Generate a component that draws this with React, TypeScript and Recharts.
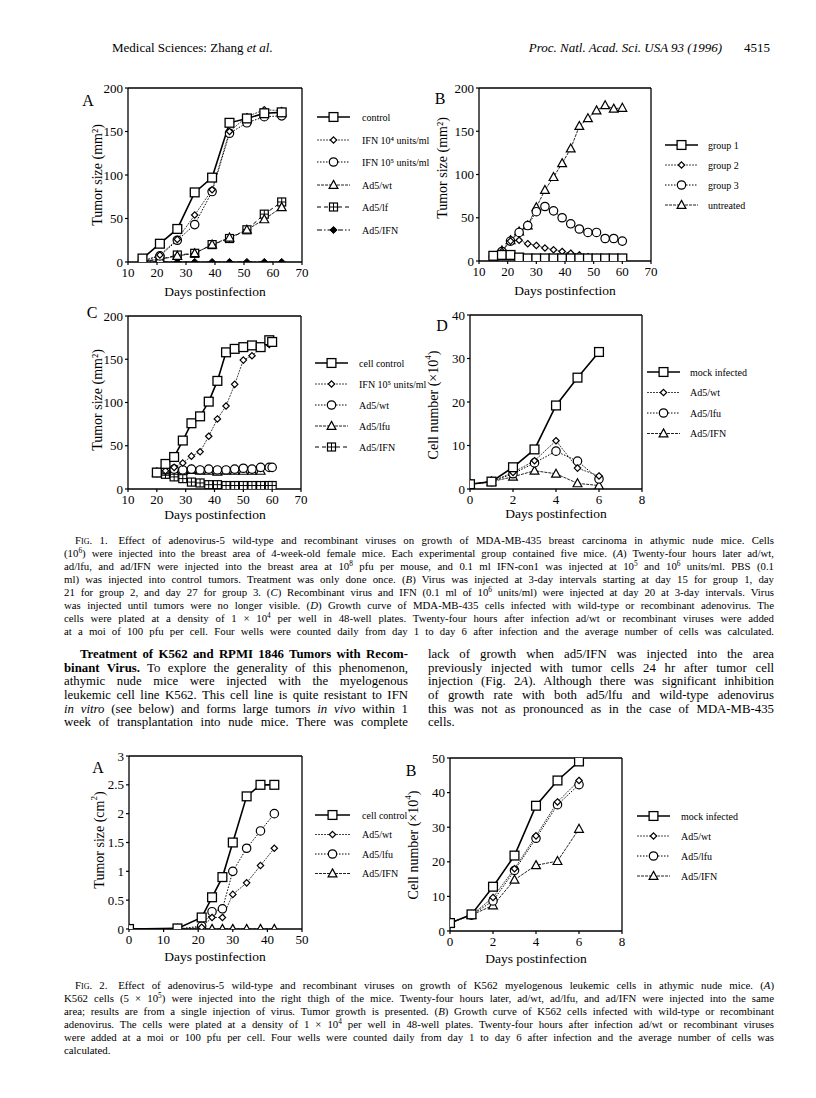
import React from "react"
import { LineChart, Line, XAxis, YAxis, ReferenceLine } from "recharts"

const serif = '"Liberation Serif", "Times New Roman", serif'

// Fig. 1A – MDA-MB-435 tumors, single treatment
const f1aDays = [15, 21, 27, 33, 39, 45, 51, 57, 63]
const f1aControl = [4, 21, 38, 80, 97, 160, 165, 171, 172]
const f1aIfn4 = [1, 8, 26, 54, 83, 150, 167, 175, 174]
const f1aIfn5 = [1, 7, 25, 43, 81, 148, 160, 167, 168]
const f1aWt = [1, 3, 7, 10, 20, 28, 37, 49, 63]
const f1aLf = [1, 3, 8, 10, 20, 27, 37, 55, 69]
const f1aAdIfn = [0, 0, 0, 0, 0, 0, 0, 0, 0]

// Fig. 1B – repeated injections by group
const f1bDays = [15, 18, 21, 24, 27, 30, 33, 36, 39, 42, 45, 48, 51, 54, 57, 60]
const f1bGroup1 = [6, 7, 7, 4, 3, 3, 3, 3, 3, 3, 3, 3, 3, 3, 3, 3]
const f1bGroup2 = [5, 11, 23, 24, 20, 18, 15, 13, 11, 9, 7, 5, 4, 3, 2, 2]
const f1bGroup3 = [5, 11, 23, 33, 41, 57, 63, 58, 50, 43, 37, 33, 33, 26, 26, 23]
const f1bUntreated = [4, 12, 24, 34, 41, 62, 82, 97, 113, 130, 156, 165, 174, 180, 176, 177]

// Fig. 1C – treatment from day 20
const f1cDays = [20, 23, 26, 29, 32, 35, 38, 41, 44, 47, 50, 53, 56, 59, 60]
const f1cControl = [19, 29, 37, 56, 76, 84, 101, 125, 158, 162, 164, 166, 164, 172, 170]
const f1cIfn5 = [19, 21, 25, 30, 38, 43, 61, 81, 96, 121, 149, 154, 163, 167, null]
const f1cWt = [19, 22, 23, 22, 23, 22, 23, 22, 22, 23, 24, 23, 25, 25, 25]
const f1cLfu = [19, 20, 21, 21, 22, 21, 21, 20, 21, 21, 21, 21, 21, null, null]
const f1cAdIfn = [19, 17, 14, 12, 8, 7, 5, 5, 4, 4, 4, 4, 4, 4, 4]

// Fig. 1D – MDA-MB-435 cell growth in vitro
const f1dDays = [0, 1, 2, 3, 4, 5, 6]
const f1dMock = [1.1, 1.7, 5, 9.1, 19.2, 25.6, 31.5]
const f1dWt = [1.1, 1.7, 3.8, 6.5, 11.1, 4.8, 3]
const f1dLfu = [1.1, 1.7, 3.5, 6, 8.7, 6.4, 2.3]
const f1dIfn = [1.1, 1.7, 2.8, 4.2, 3.5, 1.3, 0.8]

// Fig. 2A – K562 tumors
const f2aDays = [0, 14, 21, 24, 27, 30, 34, 38, 42]
const f2aControl = [0, 0.01, 0.2, 0.55, 0.9, 1.5, 2.3, 2.5, 2.5]
const f2aWt = [0, 0, 0.03, 0.2, 0.2, 0.6, 0.8, 1.1, 1.4]
const f2aLfu = [0, 0, 0.05, 0.3, 0.35, 1.0, 1.4, 1.7, 2.0]
const f2aIfn = [0, 0, 0, 0, 0, 0, 0, 0, 0]

// Fig. 2B – K562 cell growth in vitro
const f2bDays = [0, 1, 2, 3, 4, 5, 6]
const f2bMock = [2.3, 4.8, 12.8, 21.8, 36.2, 43.5, 49]
const f2bWt = [2.3, 4.6, 9.7, 18, 27.5, 37.3, 43.5]
const f2bLfu = [2.3, 4.6, 8.7, 17.5, 26.8, 36.5, 42.3]
const f2bIfn = [2.3, 4.6, 7.4, 14.8, 19, 20.2, 29.5]

const dayTicks70 = [10, 20, 30, 40, 50, 60, 70]
const sizeTicks200 = [0, 50, 100, 150, 200]
const dayTicks8 = [0, 2, 4, 6, 8]

type Marker = "square" | "diamond" | "circle" | "triangle" | "boxplus" | "filledDiamond"
type StrokeKind = "solid" | "gray" | "dotted" | "thin" | "dashed" | "dashdot"

interface Series {
  key: string
  name: string
  values: (number | null)[]
  marker: Marker
  stroke: StrokeKind
}

const STROKES: Record<StrokeKind, { color: string; width: number; dash?: string }> = {
  solid: { color: "#000", width: 1.6 },
  gray: { color: "#444", width: 1, dash: "2 1" },
  dotted: { color: "#000", width: 1, dash: "1.5 1.5" },
  thin: { color: "#222", width: 1, dash: "3 1" },
  dashed: { color: "#000", width: 1, dash: "4 3" },
  dashdot: { color: "#000", width: 1, dash: "5 2 1.5 2" },
}

function markerShape(m: Marker, cx: number, cy: number, key?: React.Key) {
  const sw = 1.2
  switch (m) {
    case "square":
      return <rect key={key} x={cx - 4.4} y={cy - 4.4} width={8.8} height={8.8} fill="#fff" stroke="#000" strokeWidth={1.3} />
    case "circle":
      return <circle key={key} cx={cx} cy={cy} r={4.2} fill="#fff" stroke="#000" strokeWidth={sw} />
    case "diamond":
      return (
        <polygon key={key} points={`${cx},${cy - 3.2} ${cx + 3.2},${cy} ${cx},${cy + 3.2} ${cx - 3.2},${cy}`}
          fill="#fff" stroke="#000" strokeWidth={sw} />
      )
    case "filledDiamond":
      return (
        <polygon key={key} points={`${cx},${cy - 3.6} ${cx + 3.6},${cy} ${cx},${cy + 3.6} ${cx - 3.6},${cy}`}
          fill="#000" stroke="#000" strokeWidth={1} />
      )
    case "triangle":
      return (
        <polygon key={key} points={`${cx},${cy - 4.6} ${cx + 4.4},${cy + 3.4} ${cx - 4.4},${cy + 3.4}`}
          fill="#fff" stroke="#000" strokeWidth={sw} />
      )
    case "boxplus":
      return (
        <g key={key}>
          <rect x={cx - 4} y={cy - 4} width={8} height={8} fill="#fff" stroke="#000" strokeWidth={sw} />
          <line x1={cx - 4} x2={cx + 4} y1={cy} y2={cy} stroke="#000" strokeWidth={1} />
          <line x1={cx} x2={cx} y1={cy - 4} y2={cy + 4} stroke="#000" strokeWidth={1} />
        </g>
      )
  }
}

interface PanelProps {
  box: { left: number; top: number; width: number; height: number }
  x: number[]
  series: Series[]
  xDomain: [number, number]
  xTicks: number[]
  yDomain: [number, number]
  yTicks: number[]
}

function Panel({ box, x, series, xDomain, xTicks, yDomain, yTicks }: PanelProps) {
  const padL = 50
  const padT = 14
  const padR = 14
  const padB = 30
  const data = x.map((d, i) => {
    const row: Record<string, number | null> = { x: d }
    series.forEach((s) => (row[s.key] = s.values[i]))
    return row
  })
  const tick = { fontSize: 13, fill: "#000", fontFamily: serif }
  return (
    <div style={{ position: "absolute", left: box.left - padL, top: box.top - padT }}>
      <LineChart
        width={padL + box.width + padR}
        height={padT + box.height + padB}
        data={data}
        margin={{ top: padT, right: padR, left: 0, bottom: 0 }}
      >
        <XAxis
          dataKey="x"
          type="number"
          domain={xDomain}
          ticks={xTicks}
          interval={0}
          allowDataOverflow
          height={padB}
          tickSize={3}
          tickMargin={3}
          tick={tick}
          axisLine={{ stroke: "#000", strokeWidth: 1.3 }}
          tickLine={{ stroke: "#000", strokeWidth: 1.2 }}
        />
        <YAxis
          type="number"
          domain={yDomain}
          ticks={yTicks}
          interval={0}
          allowDataOverflow
          width={padL}
          tickSize={3}
          tickMargin={2}
          tick={tick}
          axisLine={{ stroke: "#000", strokeWidth: 1.3 }}
          tickLine={{ stroke: "#000", strokeWidth: 1.2 }}
        />
        <ReferenceLine y={yDomain[1]} stroke="#000" strokeWidth={1.3} />
        <ReferenceLine x={xDomain[1]} stroke="#000" strokeWidth={1.3} />
        {[...series].reverse().map((s) => {
          const st = STROKES[s.stroke]
          return (
            <Line
              key={s.key}
              dataKey={s.key}
              type="linear"
              stroke={st.color}
              strokeWidth={st.width}
              strokeDasharray={st.dash}
              isAnimationActive={false}
              activeDot={false}
              dot={(p: any) =>
                p.cx == null || p.cy == null || p.value == null ? (
                  <g key={`${s.key}-${p.index}`} />
                ) : (
                  markerShape(s.marker, p.cx, p.cy, `${s.key}-${p.index}`)
                )
              }
            />
          )
        })}
      </LineChart>
    </div>
  )
}

function LegendBlock({ items, x1, x2, tx, ys }: { items: Series[]; x1: number; x2: number; tx: number; ys: number[] }) {
  return (
    <g>
      {items.map((s, i) => {
        const st = STROKES[s.stroke]
        const y = ys[i]
        return (
          <g key={s.key}>
            <line x1={x1} x2={x2} y1={y} y2={y} stroke={st.color} strokeWidth={st.width} strokeDasharray={st.dash} />
            {markerShape(s.marker, (x1 + x2) / 2, y)}
            <text x={tx} y={y} dominantBaseline="central" fontSize={10} fontFamily={serif} fill="#000">
              {s.name}
            </text>
          </g>
        )
      })}
    </g>
  )
}

function YTitle({ x, y, children }: { x: number; y: number; children: React.ReactNode }) {
  return (
    <text x={x} y={y} transform={`rotate(-90 ${x} ${y})`} textAnchor="middle" dominantBaseline="central"
      fontSize={14} fontFamily={serif} fill="#000">
      {children}
    </text>
  )
}

function XTitle({ x, y }: { x: number; y: number }) {
  return (
    <text x={x} y={y} textAnchor="middle" dominantBaseline="central" fontSize={13.5} fontFamily={serif} fill="#000">
      Days postinfection
    </text>
  )
}

function Letter({ x, y, c }: { x: number; y: number; c: string }) {
  return (
    <text x={x} y={y} textAnchor="middle" dominantBaseline="central" fontSize={16} fontFamily={serif} fill="#000">
      {c}
    </text>
  )
}

const f1aSeries: Series[] = [
  { key: "control", name: "control", values: f1aControl, marker: "square", stroke: "solid" },
  { key: "ifn4", name: "IFN 10⁴ units/ml", values: f1aIfn4, marker: "diamond", stroke: "gray" },
  { key: "ifn5", name: "IFN 10⁵ units/ml", values: f1aIfn5, marker: "circle", stroke: "dotted" },
  { key: "wt", name: "Ad5/wt", values: f1aWt, marker: "triangle", stroke: "thin" },
  { key: "lf", name: "Ad5/lf", values: f1aLf, marker: "boxplus", stroke: "dashed" },
  { key: "adifn", name: "Ad5/IFN", values: f1aAdIfn, marker: "filledDiamond", stroke: "dashdot" },
]
const f1bSeries: Series[] = [
  { key: "g1", name: "group 1", values: f1bGroup1, marker: "square", stroke: "solid" },
  { key: "g2", name: "group 2", values: f1bGroup2, marker: "diamond", stroke: "gray" },
  { key: "g3", name: "group 3", values: f1bGroup3, marker: "circle", stroke: "dotted" },
  { key: "un", name: "untreated", values: f1bUntreated, marker: "triangle", stroke: "thin" },
]
const f1cSeries: Series[] = [
  { key: "cc", name: "cell control", values: f1cControl, marker: "square", stroke: "solid" },
  { key: "ifn5", name: "IFN 10⁵ units/ml", values: f1cIfn5, marker: "diamond", stroke: "gray" },
  { key: "wt", name: "Ad5/wt", values: f1cWt, marker: "circle", stroke: "dotted" },
  { key: "lfu", name: "Ad5/lfu", values: f1cLfu, marker: "triangle", stroke: "thin" },
  { key: "adifn", name: "Ad5/IFN", values: f1cAdIfn, marker: "boxplus", stroke: "dashed" },
]
const f1dSeries: Series[] = [
  { key: "mock", name: "mock infected", values: f1dMock, marker: "square", stroke: "solid" },
  { key: "wt", name: "Ad5/wt", values: f1dWt, marker: "diamond", stroke: "gray" },
  { key: "lfu", name: "Ad5/lfu", values: f1dLfu, marker: "circle", stroke: "dotted" },
  { key: "ifn", name: "Ad5/IFN", values: f1dIfn, marker: "triangle", stroke: "thin" },
]
const f2aSeries: Series[] = [
  { key: "cc", name: "cell control", values: f2aControl, marker: "square", stroke: "solid" },
  { key: "wt", name: "Ad5/wt", values: f2aWt, marker: "diamond", stroke: "gray" },
  { key: "lfu", name: "Ad5/lfu", values: f2aLfu, marker: "circle", stroke: "dotted" },
  { key: "ifn", name: "Ad5/IFN", values: f2aIfn, marker: "triangle", stroke: "thin" },
]
const f2bSeries: Series[] = [
  { key: "mock", name: "mock infected", values: f2bMock, marker: "square", stroke: "solid" },
  { key: "wt", name: "Ad5/wt", values: f2bWt, marker: "diamond", stroke: "gray" },
  { key: "lfu", name: "Ad5/lfu", values: f2bLfu, marker: "circle", stroke: "dotted" },
  { key: "ifn", name: "Ad5/IFN", values: f2bIfn, marker: "triangle", stroke: "thin" },
]

const Sup = ({ children }: { children: React.ReactNode }) => (
  <span style={{ fontSize: "0.68em", verticalAlign: "0.5em", lineHeight: 0 }}>{children}</span>
)
const SC = ({ children }: { children: React.ReactNode }) => (
  <span style={{ fontVariant: "small-caps" }}>{children}</span>
)

// one justified line of page text; the box height equals the line pitch so lines do not overlap
function TextLine({ x, y, w, size, lh, children, last = false, indent = 0 }: {
  x: number; y: number; w: number; size: number; lh: number; children: React.ReactNode; last?: boolean; indent?: number
}) {
  return (
    <div
      style={{
        position: "absolute",
        left: x + indent,
        top: y - lh / 2,
        width: w - indent,
        height: lh,
        fontSize: size,
        lineHeight: `${lh}px`,
        textAlign: last ? "left" : "justify",
        textAlignLast: last ? "left" : "justify",
      }}
    >
      {children}
    </div>
  )
}

const fig1Caption: React.ReactNode[] = [
  <><SC>Fig. 1.</SC>{"\u2003"}Effect of adenovirus-5 wild-type and recombinant viruses on growth of MDA-MB-435 breast carcinoma in athymic nude mice. Cells</>,
  <>(10<Sup>6</Sup>) were injected into the breast area of 4-week-old female mice. Each experimental group contained five mice. (<i>A</i>) Twenty-four hours later ad/wt,</>,
  <>ad/lfu, and ad/IFN were injected into the breast area at 10<Sup>8</Sup> pfu per mouse, and 0.1 ml IFN-con1 was injected at 10<Sup>5</Sup> and 10<Sup>6</Sup> units/ml. PBS (0.1</>,
  <>ml) was injected into control tumors. Treatment was only done once. (<i>B</i>) Virus was injected at 3-day intervals starting at day 15 for group 1, day</>,
  <>21 for group 2, and day 27 for group 3. (<i>C</i>) Recombinant virus and IFN (0.1 ml of 10<Sup>6</Sup> units/ml) were injected at day 20 at 3-day intervals. Virus</>,
  <>was injected until tumors were no longer visible. (<i>D</i>) Growth curve of MDA-MB-435 cells infected with wild-type or recombinant adenovirus. The</>,
  <>cells were plated at a density of 1 × 10<Sup>4</Sup> per well in 48-well plates. Twenty-four hours after infection ad/wt or recombinant viruses were added</>,
  <>at a moi of 100 pfu per cell. Four wells were counted daily from day 1 to day 6 after infection and the average number of cells was calculated.</>,
]

const leftColumn: React.ReactNode[] = [
  <b>Treatment of K562 and RPMI 1846 Tumors with Recom-</b>,
  <><b>binant Virus.</b> To explore the generality of this phenomenon,</>,
  <>athymic nude mice were injected with the myelogenous</>,
  <>leukemic cell line K562. This cell line is quite resistant to IFN</>,
  <><i>in vitro</i> (see below) and forms large tumors <i>in vivo</i> within 1</>,
  <>week of transplantation into nude mice. There was complete</>,
]

const rightColumn: React.ReactNode[] = [
  <>lack of growth when ad5/IFN was injected into the area</>,
  <>previously injected with tumor cells 24 hr after tumor cell</>,
  <>injection (Fig. 2<i>A</i>). Although there was significant inhibition</>,
  <>of growth rate with both ad5/lfu and wild-type adenovirus</>,
  <>this was not as pronounced as in the case of MDA-MB-435</>,
  <>cells.</>,
]

const fig2Caption: React.ReactNode[] = [
  <><SC>Fig. 2.</SC>{"\u2003"}Effect of adenovirus-5 wild-type and recombinant viruses on growth of K562 myelogenous leukemic cells in athymic nude mice. (<i>A</i>)</>,
  <>K562 cells (5 × 10<Sup>5</Sup>) were injected into the right thigh of the mice. Twenty-four hours later, ad/wt, ad/lfu, and ad/IFN were injected into the same</>,
  <>area; results are from a single injection of virus. Tumor growth is presented. (<i>B</i>) Growth curve of K562 cells infected with wild-type or recombinant</>,
  <>adenovirus. The cells were plated at a density of 1 × 10<Sup>4</Sup> per well in 48-well plates. Twenty-four hours after infection ad/wt or recombinant viruses</>,
  <>were added at a moi or 100 pfu per cell. Four wells were counted daily from day 1 to day 6 after infection and the average number of cells was</>,
  <>calculated.</>,
]

export default function App() {
  const capX = 64
  const capW = 710
  const capSize = 10.8
  const capLh = 13
  const bodySize = 12.8
  const bodyLh = 13.6
  return (
    <div
      style={{
        position: "absolute",
        left: 0,
        top: 0,
        width: 816,
        height: 1098,
        background: "#fff",
        overflow: "hidden",
        fontFamily: serif,
        color: "#000",
      }}
    >
      {/* running head */}
      <div style={{ position: "absolute", left: 112, top: 40, fontSize: 13 }}>
        Medical Sciences: Zhang <i>et al.</i>
      </div>
      <div style={{ position: "absolute", right: 46, top: 40, fontSize: 13, whiteSpace: "nowrap" }}>
        <i>Proc. Natl. Acad. Sci. USA 93 (1996)</i>
        <span style={{ marginLeft: 22 }}>4515</span>
      </div>

      <Panel box={{ left: 128, top: 88, width: 174, height: 174 }} x={f1aDays} series={f1aSeries}
        xDomain={[10, 70]} xTicks={dayTicks70} yDomain={[0, 200]} yTicks={sizeTicks200} />
      <Panel box={{ left: 479, top: 88, width: 172, height: 173 }} x={f1bDays} series={f1bSeries}
        xDomain={[10, 70]} xTicks={dayTicks70} yDomain={[0, 200]} yTicks={sizeTicks200} />
      <Panel box={{ left: 128, top: 316, width: 173, height: 173 }} x={f1cDays} series={f1cSeries}
        xDomain={[10, 70]} xTicks={dayTicks70} yDomain={[0, 200]} yTicks={sizeTicks200} />
      <Panel box={{ left: 470, top: 315, width: 172, height: 174 }} x={f1dDays} series={f1dSeries}
        xDomain={[0, 8]} xTicks={dayTicks8} yDomain={[0, 40]} yTicks={[0, 10, 20, 30, 40]} />
      <Panel box={{ left: 129, top: 756, width: 173, height: 173 }} x={f2aDays} series={f2aSeries}
        xDomain={[0, 50]} xTicks={[0, 10, 20, 30, 40, 50]} yDomain={[0, 3]} yTicks={[0, 0.5, 1, 1.5, 2, 2.5, 3]} />
      <Panel box={{ left: 450, top: 758, width: 172, height: 173 }} x={f2bDays} series={f2bSeries}
        xDomain={[0, 8]} xTicks={dayTicks8} yDomain={[0, 50]} yTicks={[0, 10, 20, 30, 40, 50]} />

      <svg width={816} height={1098} style={{ position: "absolute", left: 0, top: 0, pointerEvents: "none" }}>
        <Letter x={88} y={100} c="A" />
        <YTitle x={97} y={175}>Tumor size (mm²)</YTitle>
        <XTitle x={215} y={291} />
        <LegendBlock items={f1aSeries} x1={317} x2={350} tx={362} ys={[117, 140, 162, 185, 207, 230]} />

        <Letter x={440} y={98} c="B" />
        <YTitle x={442} y={168}>Tumor size (mm²)</YTitle>
        <XTitle x={565} y={290} />
        <LegendBlock items={f1bSeries} x1={665} x2={698} tx={708} ys={[145, 165, 185, 205]} />

        <Letter x={92} y={312} c="C" />
        <YTitle x={97} y={400}>Tumor size (mm²)</YTitle>
        <XTitle x={215} y={514} />
        <LegendBlock items={f1cSeries} x1={315} x2={348} tx={359} ys={[363, 384, 405, 426, 447]} />

        <Letter x={442} y={325} c="D" />
        <YTitle x={433} y={405}>
          Cell number (×10<tspan dy={-5} fontSize={9}>4</tspan><tspan dy={5}>)</tspan>
        </YTitle>
        <XTitle x={556} y={513} />
        <LegendBlock items={f1dSeries} x1={647} x2={680} tx={690} ys={[372, 392.5, 413, 433.5]} />

        <Letter x={98} y={767} c="A" />
        <YTitle x={99} y={840}>
          Tumor size (cm<tspan dy={-5} fontSize={9}>2</tspan><tspan dy={5}>)</tspan>
        </YTitle>
        <XTitle x={215} y={956} />
        <LegendBlock items={f2aSeries} x1={315} x2={350} tx={362} ys={[815, 834.5, 854, 873.5]} />

        <Letter x={411} y={770} c="B" />
        <YTitle x={413} y={845}>
          Cell number (×10<tspan dy={-5} fontSize={9}>4</tspan><tspan dy={5}>)</tspan>
        </YTitle>
        <XTitle x={536} y={958} />
        <LegendBlock items={f2bSeries} x1={637} x2={670} tx={681} ys={[816, 836, 856, 876]} />
      </svg>

      {fig1Caption.map((ln, i) => (
        <TextLine key={`c1-${i}`} x={capX} y={540 + i * capLh} w={capW} size={capSize} lh={capLh}
          indent={i === 0 ? 11 : 0}>
          {ln}
        </TextLine>
      ))}
      {leftColumn.map((ln, i) => (
        <TextLine key={`l-${i}`} x={64} y={655 + i * bodyLh} w={344} size={bodySize} lh={bodyLh}
          indent={i === 0 ? 16 : 0}>
          {ln}
        </TextLine>
      ))}
      {rightColumn.map((ln, i) => (
        <TextLine key={`r-${i}`} x={428} y={655 + i * bodyLh} w={346} size={bodySize} lh={bodyLh}
          last={i === rightColumn.length - 1}>
          {ln}
        </TextLine>
      ))}
      {fig2Caption.map((ln, i) => (
        <TextLine key={`c2-${i}`} x={capX} y={985 + i * capLh} w={capW} size={capSize} lh={capLh}
          indent={i === 0 ? 11 : 0} last={i === fig2Caption.length - 1}>
          {ln}
        </TextLine>
      ))}
    </div>
  )
}
